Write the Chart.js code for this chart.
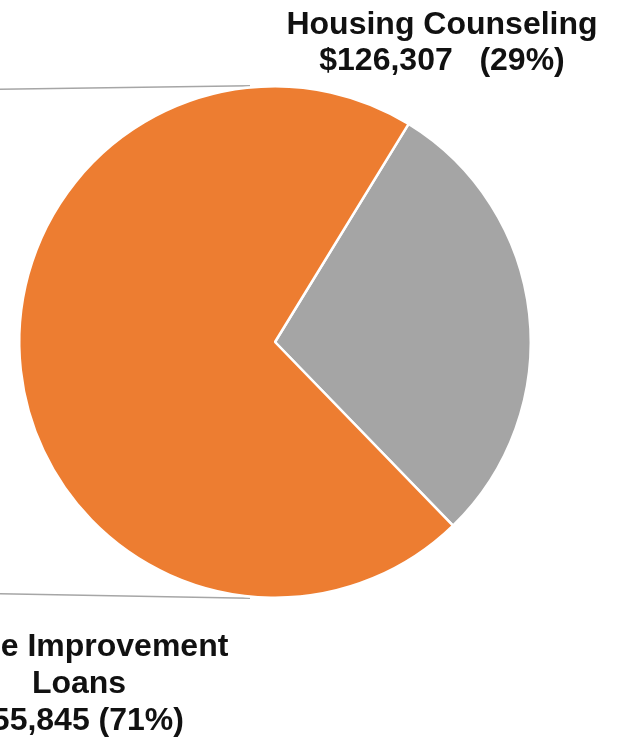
<!DOCTYPE html>
<html>
<head>
<meta charset="utf-8">
<script src="https://cdn.jsdelivr.net/npm/chart.js@4"></script>
<style>
  html, body { margin: 0; padding: 0; background: #fff; }
  #wrap { width: 621px; height: 738px; position: relative; }
</style>
</head>
<body>
<div id="wrap"><canvas id="pie"></canvas></div>
<script>
// slices, clockwise from the top-right edge of the gray one
const categories = ['Housing Counseling', 'Home Improvement Loans'];
const shares = [29, 71];
const amounts = ['$126,307', '$55,845'];
const sliceColors = ['#A5A5A5', '#ED7D31'];

// the labels as they are set out in the picture
const labelLines = [
  ['Housing Counseling', amounts[0] + '   (' + shares[0] + '%)'],
  ['Home Improvement', 'Loans', amounts[1] + ' (' + shares[1] + '%)']
];

const labelFont = 'bold 32px "Liberation Sans", Arial, sans-serif';

// leader lines that come in from the left and the slice labels
const extras = {
  id: 'extras',
  beforeDatasetsDraw(chart) {
    const arc = chart.getDatasetMeta(0).data[0];
    const cx = arc.x, cy = arc.y, r = arc.outerRadius;
    const ctx = chart.ctx;
    ctx.save();
    ctx.strokeStyle = '#A6A6A6';
    ctx.lineWidth = 1.5;
    ctx.beginPath();
    ctx.moveTo(0, cy - r + 3);
    ctx.lineTo(cx - 25, cy - r - 0.5);
    ctx.moveTo(0, cy + r - 4);
    ctx.lineTo(cx - 25, cy + r + 0.5);
    ctx.stroke();
    ctx.restore();
  },
  afterDatasetsDraw(chart) {
    const arc = chart.getDatasetMeta(0).data[0];
    const cx = arc.x, cy = arc.y, r = arc.outerRadius;
    const ctx = chart.ctx;
    ctx.save();
    ctx.font = labelFont;
    ctx.fillStyle = '#111';
    ctx.textAlign = 'center';
    ctx.textBaseline = 'alphabetic';
    // Housing Counseling, above the gray slice
    labelLines[0].forEach((t, i) => {
      ctx.fillText(t, cx + 167, cy - r - 52 + i * 36);
    });
    // Home Improvement Loans, below-left, runs off the edge
    labelLines[1].forEach((t, i) => {
      ctx.fillText(t, cx - 196, cy + r + 58 + i * 37);
    });
    ctx.restore();
  }
};

new Chart(document.getElementById('pie'), {
  type: 'pie',
  data: {
    labels: categories,
    datasets: [{
      data: shares,
      backgroundColor: sliceColors,
      borderColor: '#fff',
      borderWidth: 2.5,
      hoverOffset: 0
    }]
  },
  options: {
    responsive: true,
    maintainAspectRatio: false,
    animation: false,
    rotation: 31.5,
    layout: { padding: { left: 18, right: 89, top: 85, bottom: 139 } },
    plugins: {
      legend: { display: false },
      tooltip: { enabled: false }
    }
  },
  plugins: [extras]
});
</script>
</body>
</html>
